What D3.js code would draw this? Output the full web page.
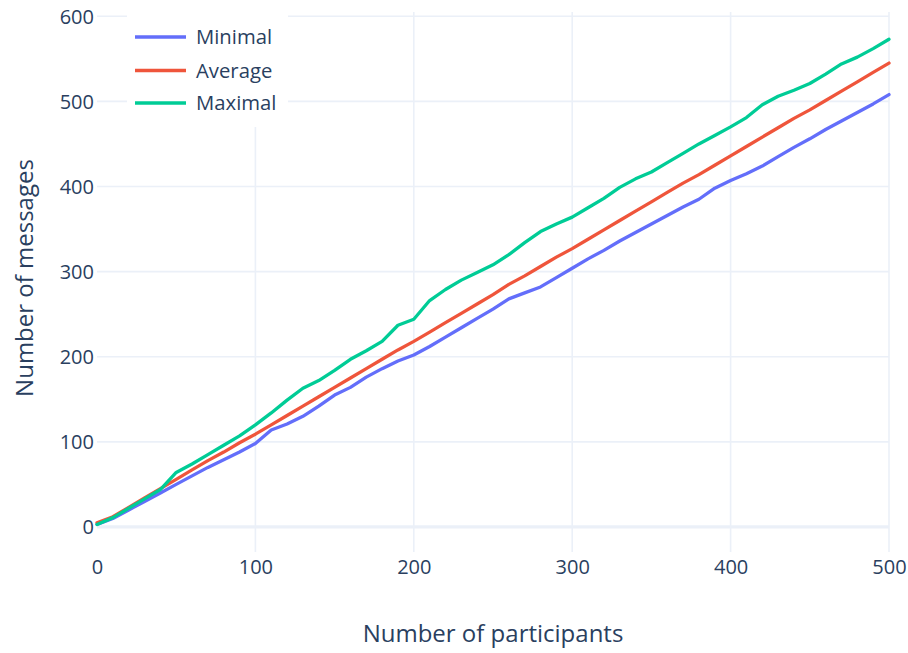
<!DOCTYPE html>
<html>
<head>
<meta charset="utf-8">
<script src="https://cdn.jsdelivr.net/npm/d3@7"></script>
<style>
  html, body { margin: 0; padding: 0; background: #fff; }
  svg { display: block; font-family: "Open Sans", sans-serif; }
</style>
</head>
<body>
<svg id="chart" width="908" height="653"></svg>
<script>
const participants = [0,10,20,30,40,50,60,70,80,90,100,110,120,130,140,150,160,170,180,190,200,210,220,230,240,250,260,270,280,290,300,310,320,330,340,350,360,370,380,390,400,410,420,430,440,450,460,470,480,490,500];
const minimal = [3,10,20,30,40,50,60,70,79,88,98,114,121,130,142,155,164,176,186,195,202,212,223,234,245,256,268,275,282,293,304,315,325,336,346,356,366,376,385,398,407,415,424,435,446,456,467,477,487,497,508];
const average = [5,12,23,34,45,56,67,78,88,99,109,120,131,142,153,164,175,186,197,208,218,229,240,251,262,273,285,295,306,317,327,338,349,360,371,382,393,404,414,425,436,447,458,469,480,490,501,512,523,534,545];
const maximal = [3,11,22,33,44,64,74,85,96,107,120,134,149,163,172,184,197,207,218,237,244,266,279,290,299,308,320,334,347,356,364,375,386,399,409,417,428,439,450,460,470,481,496,506,513,521,532,544,552,562,573];
const seriesNames = ["Minimal", "Average", "Maximal"];
const seriesColors = ["#636efa", "#EF553B", "#00cc96"];
const xTicks = [0,100,200,300,400,500];
const yTicks = [0,100,200,300,400,500,600];
const xTitle = "Number of participants";
const yTitle = "Number of messages";

(function () {
const svg = d3.select("#chart");
const pLeft = 97, pRight = 889, pTop = 12, pBottom = 552;
const x = d3.scaleLinear().domain([0, 500]).range([pLeft, pRight]);
const y = d3.scaleLinear().domain([-29.4, 605]).range([pBottom, pTop]);
const textColor = "#2a3f5f";
const gridColor = "#EBF0F8";

svg.append("g").selectAll("line").data(xTicks.filter(d => d !== 0)).join("line")
  .attr("x1", d => x(d)).attr("x2", d => x(d)).attr("y1", pTop).attr("y2", pBottom)
  .attr("stroke", gridColor).attr("stroke-width", 1.6);
svg.append("g").selectAll("line").data(yTicks.filter(d => d !== 0)).join("line")
  .attr("x1", pLeft).attr("x2", pRight).attr("y1", d => y(d)).attr("y2", d => y(d))
  .attr("stroke", gridColor).attr("stroke-width", 1.6);
svg.append("line").attr("x1", pLeft).attr("x2", pRight).attr("y1", y(0)).attr("y2", y(0))
  .attr("stroke", gridColor).attr("stroke-width", 3.3);

const xAxis = d3.axisBottom(x).tickValues(xTicks).tickSize(0).tickPadding(0).tickFormat(d3.format("d"));
const gx = svg.append("g").attr("transform", `translate(0, ${pBottom})`).call(xAxis);
gx.select(".domain").remove();
gx.selectAll("text").attr("dy", null).attr("y", 22).attr("fill", textColor)
  .style("font-size", "20px").style("font-family", "'Open Sans', sans-serif");

const yAxis = d3.axisLeft(y).tickValues(yTicks).tickSize(0).tickPadding(0).tickFormat(d3.format("d"));
const gy = svg.append("g").attr("transform", `translate(${pLeft - 3}, 0)`).call(yAxis);
gy.select(".domain").remove();
gy.selectAll("text").attr("dy", "0.35em").attr("fill", textColor)
  .style("font-size", "20px").style("font-family", "'Open Sans', sans-serif");

const allSeries = [minimal, average, maximal];
const line = d3.line().x((d, i) => x(participants[i])).y(d => y(d));
allSeries.forEach((s, k) => {
  svg.append("path").datum(s).attr("d", line)
    .attr("fill", "none").attr("stroke", seriesColors[k]).attr("stroke-width", 3.3)
    .attr("stroke-linejoin", "round").attr("stroke-linecap", "round");
});

const lg = svg.append("g");
lg.append("rect").attr("x", 127).attr("y", pTop).attr("width", 161).attr("height", 115).attr("fill", "#fff");
const legendY = [37, 70.5, 103];
seriesNames.forEach((n, k) => {
  lg.append("line").attr("x1", 135).attr("x2", 186).attr("y1", legendY[k]).attr("y2", legendY[k])
    .attr("stroke", seriesColors[k]).attr("stroke-width", 3.3);
  lg.append("text").attr("x", 196).attr("y", legendY[k]).attr("dy", "0.35em")
    .attr("fill", textColor).style("font-size", "20.3px").text(n);
});

svg.append("text").attr("x", (pLeft + pRight) / 2).attr("y", 642).attr("text-anchor", "middle")
  .attr("fill", textColor).style("font-size", "24px").text(xTitle);
svg.append("text").attr("transform", `translate(33, ${(pTop + pBottom) / 2 - 4}) rotate(-90)`)
  .attr("text-anchor", "middle").attr("fill", textColor).style("font-size", "24px").text(yTitle);
})();
</script>
</body>
</html>
